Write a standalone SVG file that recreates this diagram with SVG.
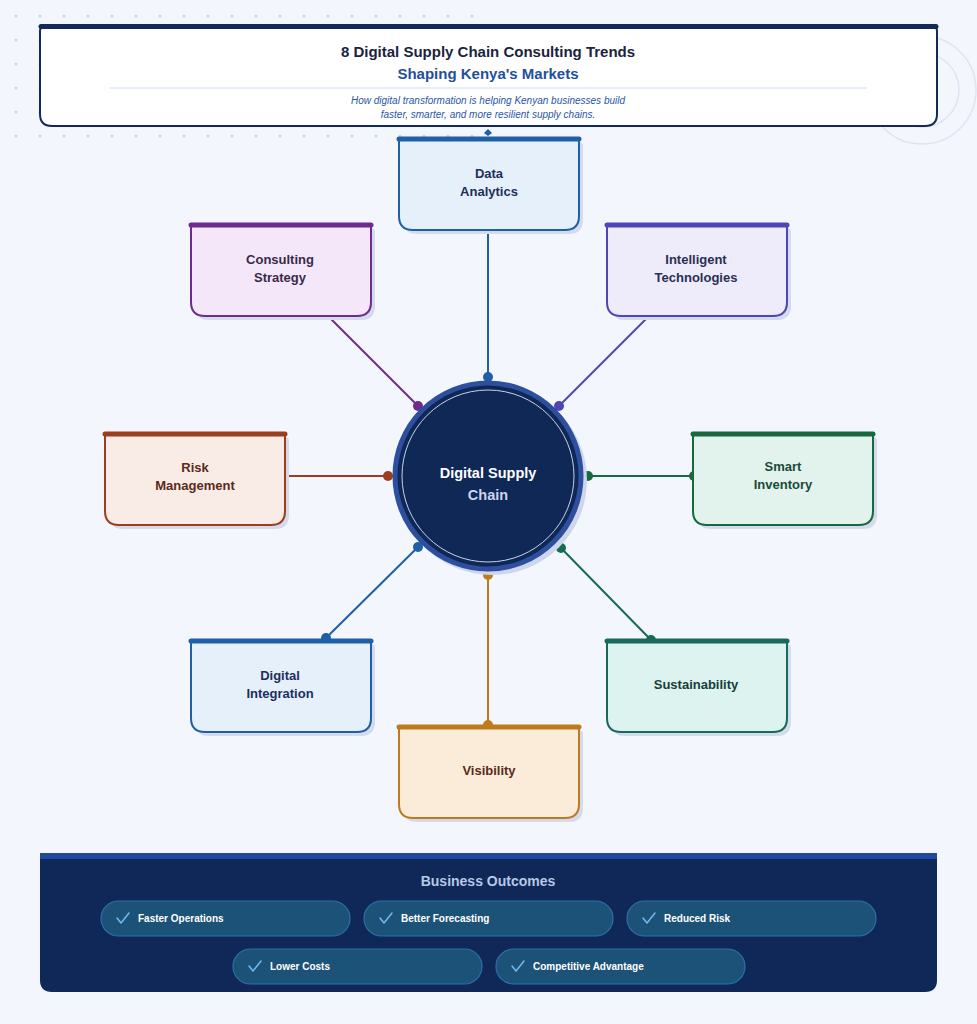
<svg xmlns="http://www.w3.org/2000/svg" width="977" height="1024" viewBox="0 0 977 1024">
<defs>
<pattern id="dots" x="4" y="4" width="24" height="24" patternUnits="userSpaceOnUse">
<circle cx="12" cy="12" r="1.6" fill="#c9d6ec"/>
</pattern>
<path id="nshape" d="M4,0 H176 Q180,0 180,4 V78 Q180,92 166,92 H14 Q0,92 0,78 V4 Q0,0 4,0 Z"/>
<marker id="dotBlue" viewBox="0 0 10 10" refX="5" refY="5" markerWidth="10" markerHeight="10" markerUnits="userSpaceOnUse"><circle cx="5" cy="5" r="5" fill="#1f5fa6"/></marker>
<marker id="dotPurple" viewBox="0 0 10 10" refX="5" refY="5" markerWidth="10" markerHeight="10" markerUnits="userSpaceOnUse"><circle cx="5" cy="5" r="5" fill="#6e2a8c"/></marker>
<marker id="dotIndigo" viewBox="0 0 10 10" refX="5" refY="5" markerWidth="10" markerHeight="10" markerUnits="userSpaceOnUse"><circle cx="5" cy="5" r="5" fill="#4f45b5"/></marker>
<marker id="dotRust" viewBox="0 0 10 10" refX="5" refY="5" markerWidth="10" markerHeight="10" markerUnits="userSpaceOnUse"><circle cx="5" cy="5" r="5" fill="#9c3d1e"/></marker>
<marker id="dotGreen" viewBox="0 0 10 10" refX="5" refY="5" markerWidth="10" markerHeight="10" markerUnits="userSpaceOnUse"><circle cx="5" cy="5" r="5" fill="#17693e"/></marker>
<marker id="dotOrange" viewBox="0 0 10 10" refX="5" refY="5" markerWidth="10" markerHeight="10" markerUnits="userSpaceOnUse"><circle cx="5" cy="5" r="5" fill="#c07a1e"/></marker>
<marker id="dotTeal" viewBox="0 0 10 10" refX="5" refY="5" markerWidth="10" markerHeight="10" markerUnits="userSpaceOnUse"><circle cx="5" cy="5" r="5" fill="#17695a"/></marker>
</defs>
<style>
text{font-family:"Liberation Sans",Arial,sans-serif}
.nlabel{font-size:13px;font-weight:bold;text-anchor:middle}
.shadow{fill:#d3dbec}
.bar{stroke-width:5;stroke-linecap:round}
.conn{fill:none;stroke-width:2}
.pill{fill:#1c5277;stroke:#2e6eab;stroke-width:1.2}
.pilltext{font-size:10px;font-weight:bold;fill:#ffffff}
.check{fill:none;stroke:#6fb6ee;stroke-width:1.6;stroke-linecap:round;stroke-linejoin:round}
</style>
<rect x="0" y="0" width="977" height="1024" fill="#f3f7fd"/>
<rect x="0" y="0" width="484" height="150" fill="url(#dots)"/>
<circle cx="922" cy="90" r="54" fill="none" stroke="#dce5f3" stroke-width="1.5"/>
<circle cx="922" cy="90" r="37" fill="none" stroke="#dce5f3" stroke-width="1.5"/>

<g id="header">
<path d="M44,27 H933 Q937,27 937,31 V114 Q937,126 925,126 H52 Q40,126 40,114 V31 Q40,27 44,27 Z" fill="#ffffff" stroke="#12295a" stroke-width="2"/>
<line x1="41" y1="26.5" x2="936" y2="26.5" stroke="#12295a" stroke-width="5" stroke-linecap="round"/>
<text x="488" y="57" text-anchor="middle" font-size="15" font-weight="bold" fill="#1a2340">8 Digital Supply Chain Consulting Trends</text>
<text x="488" y="79" text-anchor="middle" font-size="15" font-weight="bold" fill="#1f4fa0">Shaping Kenya's Markets</text>
<line x1="110" y1="88" x2="867" y2="88" stroke="#cddcf0" stroke-width="1"/>
<text x="488" y="104" text-anchor="middle" font-size="10" font-style="italic" fill="#2a56a8">How digital transformation is helping Kenyan businesses build</text>
<text x="488" y="118" text-anchor="middle" font-size="10" font-style="italic" fill="#2a56a8">faster, smarter, and more resilient supply chains.</text>
</g>

<g id="connectors">
<line class="conn" x1="488" y1="137" x2="488" y2="377" stroke="#1f5fa6" marker-end="url(#dotBlue)"/>
<path d="M484,133 L488,129 L492,133 L488,136 Z" fill="#1f5fa6"/>
<line class="conn" x1="330" y1="318" x2="418" y2="406" stroke="#6e2a8c" marker-end="url(#dotPurple)"/>
<line class="conn" x1="647" y1="318" x2="559" y2="406" stroke="#4f45b5" marker-end="url(#dotIndigo)"/>
<line class="conn" x1="289" y1="476" x2="388" y2="476" stroke="#9c3d1e" marker-end="url(#dotRust)"/>
<line class="conn" x1="588" y1="476" x2="694" y2="476" stroke="#17693e" marker-start="url(#dotGreen)" marker-end="url(#dotGreen)"/>
<line class="conn" x1="418" y1="547" x2="326" y2="638" stroke="#1f5fa6" marker-start="url(#dotBlue)" marker-end="url(#dotBlue)"/>
<line class="conn" x1="488" y1="575" x2="488" y2="725" stroke="#c07a1e" marker-start="url(#dotOrange)" marker-end="url(#dotOrange)"/>
<line class="conn" x1="561" y1="548" x2="651" y2="640" stroke="#17695a" marker-start="url(#dotTeal)" marker-end="url(#dotTeal)"/>
</g>

<g id="center">
<circle cx="492" cy="480" r="95" fill="#cdd6ea"/>
<circle cx="488" cy="476" r="93" fill="#0f2855" stroke="#2d4f9e" stroke-width="5"/>
<circle cx="488" cy="476" r="88" fill="none" stroke="#0f2855" stroke-width="3"/>
<circle cx="488" cy="476" r="86" fill="none" stroke="#c9d4ec" stroke-width="1"/>
<text x="488" y="478" text-anchor="middle" font-size="14.5" font-weight="bold" fill="#ffffff">Digital Supply</text>
<text x="488" y="500" text-anchor="middle" font-size="14.5" font-weight="bold" fill="#c9d6ee">Chain</text>
</g>

<g id="node-data-analytics" transform="translate(399,138)">
<use href="#nshape" class="shadow" x="4" y="4"/>
<use href="#nshape" fill="#e6f0fa" stroke="#1f5fa6" stroke-width="2"/>
<line class="bar" x1="0" y1="1" x2="180" y2="1" stroke="#1f5fa6"/>
<text class="nlabel" x="90" y="40" fill="#1c2f5c">Data</text>
<text class="nlabel" x="90" y="58" fill="#1c2f5c">Analytics</text>
</g>

<g id="node-consulting-strategy" transform="translate(191,224)">
<use href="#nshape" class="shadow" x="4" y="4"/>
<use href="#nshape" fill="#f4e7f9" stroke="#6e2a8c" stroke-width="2"/>
<line class="bar" x1="0" y1="1" x2="180" y2="1" stroke="#6e2a8c"/>
<text class="nlabel" x="89" y="40" fill="#3a2a4a">Consulting</text>
<text class="nlabel" x="89" y="58" fill="#3a2a4a">Strategy</text>
</g>

<g id="node-intelligent-technologies" transform="translate(607,224)">
<use href="#nshape" class="shadow" x="4" y="4"/>
<use href="#nshape" fill="#eeecfb" stroke="#4f45b5" stroke-width="2"/>
<line class="bar" x1="0" y1="1" x2="180" y2="1" stroke="#4f45b5"/>
<text class="nlabel" x="89" y="40" fill="#2a2f55">Intelligent</text>
<text class="nlabel" x="89" y="58" fill="#2a2f55">Technologies</text>
</g>

<g id="node-risk-management" transform="translate(105,433)">
<use href="#nshape" class="shadow" x="4" y="4"/>
<use href="#nshape" fill="#f9ece6" stroke="#9c3d1e" stroke-width="2"/>
<line class="bar" x1="0" y1="1" x2="180" y2="1" stroke="#9c3d1e"/>
<text class="nlabel" x="90" y="39" fill="#5a2a1a">Risk</text>
<text class="nlabel" x="90" y="57" fill="#5a2a1a">Management</text>
</g>

<g id="node-smart-inventory" transform="translate(693,433)">
<use href="#nshape" class="shadow" x="4" y="4"/>
<use href="#nshape" fill="#e1f3ec" stroke="#17693e" stroke-width="2"/>
<line class="bar" x1="0" y1="1" x2="180" y2="1" stroke="#17693e"/>
<text class="nlabel" x="90" y="38" fill="#1a4a38">Smart</text>
<text class="nlabel" x="90" y="56" fill="#1a4a38">Inventory</text>
</g>

<g id="node-digital-integration" transform="translate(191,640)">
<use href="#nshape" class="shadow" x="4" y="4"/>
<use href="#nshape" fill="#e6f0fa" stroke="#1f5fa6" stroke-width="2"/>
<line class="bar" x1="0" y1="1" x2="180" y2="1" stroke="#1f5fa6"/>
<text class="nlabel" x="89" y="40" fill="#1c2f5c">Digital</text>
<text class="nlabel" x="89" y="58" fill="#1c2f5c">Integration</text>
</g>

<g id="node-visibility" transform="translate(399,726)">
<use href="#nshape" class="shadow" x="4" y="4"/>
<use href="#nshape" fill="#fbecda" stroke="#c07a1e" stroke-width="2"/>
<line class="bar" x1="0" y1="1" x2="180" y2="1" stroke="#c07a1e"/>
<text class="nlabel" x="90" y="49" fill="#5a2a1a">Visibility</text>
</g>

<g id="node-sustainability" transform="translate(607,640)">
<use href="#nshape" class="shadow" x="4" y="4"/>
<use href="#nshape" fill="#ddf3ef" stroke="#17695a" stroke-width="2"/>
<line class="bar" x1="0" y1="1" x2="180" y2="1" stroke="#17695a"/>
<text class="nlabel" x="89" y="49" fill="#173f3a">Sustainability</text>
</g>

<g id="outcomes">
<path d="M40,855 H937 V980 Q937,992 925,992 H52 Q40,992 40,980 Z" fill="#0f2858"/>
<rect x="40" y="853" width="897" height="6" fill="#1f4aa0"/>
<text x="488" y="886" text-anchor="middle" font-size="14" font-weight="bold" fill="#b8c8e6">Business Outcomes</text>
<rect class="pill" x="101" y="901" width="249" height="35" rx="17.5"/>
<path class="check" d="M117,918 L121,923 L129,913"/>
<text class="pilltext" x="138" y="922">Faster Operations</text>
<rect class="pill" x="364" y="901" width="249" height="35" rx="17.5"/>
<path class="check" d="M380,918 L384,923 L392,913"/>
<text class="pilltext" x="401" y="922">Better Forecasting</text>
<rect class="pill" x="627" y="901" width="249" height="35" rx="17.5"/>
<path class="check" d="M643,918 L647,923 L655,913"/>
<text class="pilltext" x="664" y="922">Reduced Risk</text>
<rect class="pill" x="233" y="949" width="249" height="35" rx="17.5"/>
<path class="check" d="M249,966 L253,971 L261,961"/>
<text class="pilltext" x="270" y="970">Lower Costs</text>
<rect class="pill" x="496" y="949" width="249" height="35" rx="17.5"/>
<path class="check" d="M512,966 L516,971 L524,961"/>
<text class="pilltext" x="533" y="970">Competitive Advantage</text>
</g>
</svg>
